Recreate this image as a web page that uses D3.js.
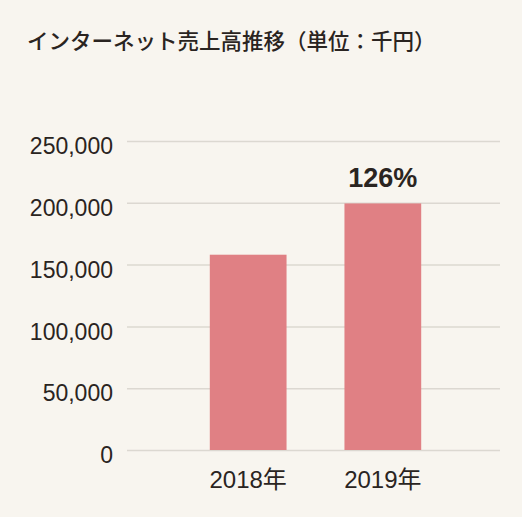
<!DOCTYPE html>
<html>
<head>
<meta charset="utf-8">
<script src="https://cdn.jsdelivr.net/npm/d3@7"></script>
<style>
  html, body { margin: 0; padding: 0; background: #f8f5ef; }
  #chart { width: 522px; height: 517px; }
  text { font-family: "Liberation Sans", "Noto Sans CJK JP", sans-serif; fill: #2a2421; }
</style>
</head>
<body>
<div id="chart"></div>
<script>
// data
var years = ["2018年", "2019年"]
var sales = [158000, 199500]
var yTicks = [0, 50000, 100000, 150000, 200000, 250000]
var title = "インターネット売上高推移（単位：千円）"
var growthLabel = "126%"

var W = 522, H = 517
var margin = { top: 141, right: 20, bottom: 67, left: 129 }

var svg = d3.select("#chart")
    .append("svg")
    .attr("width", W)
    .attr("height", H)

svg.append("rect")
    .attr("width", W)
    .attr("height", H)
    .attr("fill", "#f8f5ef")

// title
svg.append("text")
    .attr("x", 27)
    .attr("y", 49)
    .style("font-family", "'Noto Sans CJK JP', sans-serif")
    .style("font-size", "21.5px")
    .style("font-weight", "500")
    .text(title)

var y = d3.scaleLinear()
    .domain([0, 250000])
    .range([H - margin.bottom, margin.top])

var x = d3.scaleBand()
    .domain(years)
    .range([margin.left, W - margin.right])
    .paddingInner(0.43)
    .paddingOuter(0.6)

// grid lines + y labels
var yAxis = svg.append("g")
    .attr("transform", "translate(" + 127 + ",0)")
    .call(d3.axisLeft(y)
        .tickValues(yTicks)
        .tickSize(-(W - 127 - 22))
        .tickPadding(14)
        .tickFormat(d3.format(",")))
yAxis.select(".domain").remove()
yAxis.selectAll(".tick line")
    .attr("stroke", "#dcd8d1")
    .attr("stroke-width", 1.5)
yAxis.selectAll(".tick text")
    .attr("dy", "0.55em")
    .style("font-size", "23px")
    .style("fill", "#2a2421")

// bars
svg.append("g")
    .selectAll("rect")
    .data(sales)
    .enter()
    .append("rect")
    .attr("x", function (d, i) { return x(years[i]) })
    .attr("y", function (d) { return y(d) })
    .attr("width", x.bandwidth())
    .attr("height", function (d) { return y(0) - y(d) })
    .attr("fill", "#e08084")

// x labels
var xAxis = svg.append("g")
    .attr("transform", "translate(0," + (H - margin.bottom) + ")")
    .call(d3.axisBottom(x).tickSize(0).tickPadding(21))
xAxis.select(".domain").remove()
xAxis.selectAll(".tick text")
    .style("font-size", "24px")
    .style("fill", "#2a2421")

// growth label over the last bar
svg.append("text")
    .attr("x", x(years[1]) + x.bandwidth() / 2)
    .attr("y", y(sales[1]) - 16)
    .attr("text-anchor", "middle")
    .style("font-size", "27px")
    .style("font-weight", "bold")
    .text(growthLabel)
</script>
</body>
</html>
